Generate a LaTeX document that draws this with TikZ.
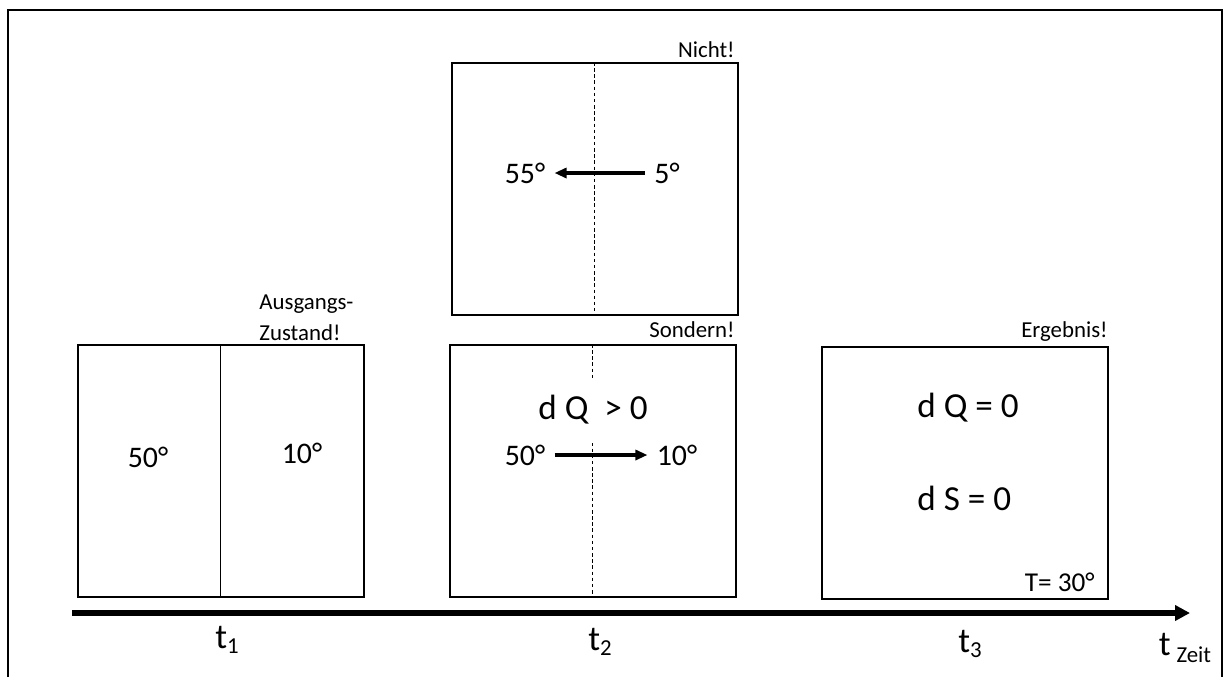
\documentclass[tikz,border=0pt]{standalone}
\usepackage{fontspec}
\setmainfont{Carlito}
\usetikzlibrary{arrows.meta}

\newcommand\tIdx[1]{t\raisebox{-3pt}{\fontsize{13}{15}\selectfont #1}}

\begin{document}
\begin{tikzpicture}[x=0.02cm,y=-0.02cm]
    \tikzset{BoxStyle/.style = {%
        shape = rectangle,
        draw, line width = 1pt,
        minimum width = 5.72cm,
        minimum height = 5.04cm,
        anchor = north west, inner sep = 0pt}}
    \tikzset{NoteStyle/.style = {%
        font = \fontsize{13}{17.6}\selectfont,
        anchor = base east, inner sep = 0pt}}
    \tikzset{TempStyle/.style = {%
        font = \fontsize{17}{20}\selectfont,
        inner xsep = 0.18cm, inner ysep = 1pt}}
    \tikzset{FormulaStyle/.style = {%
        font = \fontsize{20}{24}\selectfont,
        anchor = west, inner sep = 0pt}}
    \tikzset{TickStyle/.style = {%
        font = \fontsize{20}{24}\selectfont,
        anchor = base, inner sep = 0pt}}
    \tikzset{FlowStyle/.style = {line width = 2pt, -{Triangle[length=0.24cm,width=0.2cm]}}}
    \tikzset{WallStyle/.style = {line width = 0.5pt, dash pattern = on 2pt off 1.5pt}}
    \tikzset{AxisStyle/.style = {line width = 3.2pt, -{Triangle[length=0.3cm,width=0.3cm]}}}

    \useasboundingbox (0,0) rectangle (1227,677);
    \draw[line width = 1.2pt] (8,677) -- (8,10) -- (1222,10) -- (1222,677);

    % t1
    \node[BoxStyle] (Start) at (77,344) {};
    \draw[line width = 0.6pt] (Start.north) -- (Start.south);
    \node[TempStyle] (StartHot) at (148,457) {50°};
    \node[TempStyle] (StartCold) at (302,453) {10°};
    \node[NoteStyle, anchor = south west, align = left] (StartNote) at (259,341) {Ausgangs-\\Zustand!};

    % t2
    \node[BoxStyle] (Wrong) at (451,62) {};
    \draw[WallStyle] (Wrong.north) -- (Wrong.south);
    \node[NoteStyle] (WrongNote) at (735,57) {Nicht!};
    \node[TempStyle] (WrongHot) at (525,173) {55°};
    \node[TempStyle] (WrongCold) at (667,173) {5°};
    \draw[FlowStyle] (WrongCold) -- (WrongHot);

    \node[BoxStyle] (Right) at (449,344) {};
    \draw[WallStyle] (Right.north) -- (Right.south);
    \node[NoteStyle] (RightNote) at (735,337) {Sondern!};
    \node[fill = white, font = \fontsize{20}{24}\selectfont,
          inner xsep = 2pt, minimum height = 1.3cm] (RightFlux) at (593,410) {d Q\ \ > 0};
    \node[TempStyle] (RightHot) at (525,455) {50°};
    \node[TempStyle] (RightCold) at (677,455) {10°};
    \draw[FlowStyle] (RightHot) -- (RightCold);

    % t3
    \node[BoxStyle] (Final) at (821,346) {};
    \node[NoteStyle] (FinalNote) at (1108,337) {Ergebnis!};
    \node[FormulaStyle] (FinalFlux) at (917,408) {d Q = 0};
    \node[FormulaStyle] (FinalEntropy) at (917,498) {d S = 0};
    \node[NoteStyle, font = \fontsize{15.5}{18}\selectfont] (FinalTemp) at (1095,591) {T= 30°};

    % Zeitachse
    \coordinate (AxisStart) at (72,613);
    \coordinate (AxisEnd) at (1190,613);
    \draw[AxisStyle] (AxisStart) -- (AxisEnd);
    \node[TickStyle] (TimeOne) at (227,648) {\tIdx{1}};
    \node[TickStyle] (TimeTwo) at (600,650) {\tIdx{2}};
    \node[TickStyle] (TimeThree) at (970,652) {\tIdx{3}};
    \node[TickStyle] (TimeAxis) at (1185,655) {t\,\raisebox{-4.5pt}{\fontsize{13}{15}\selectfont Zeit}};
    %\node[TickStyle] at (1185,655) {t};
\end{tikzpicture}
\end{document}
